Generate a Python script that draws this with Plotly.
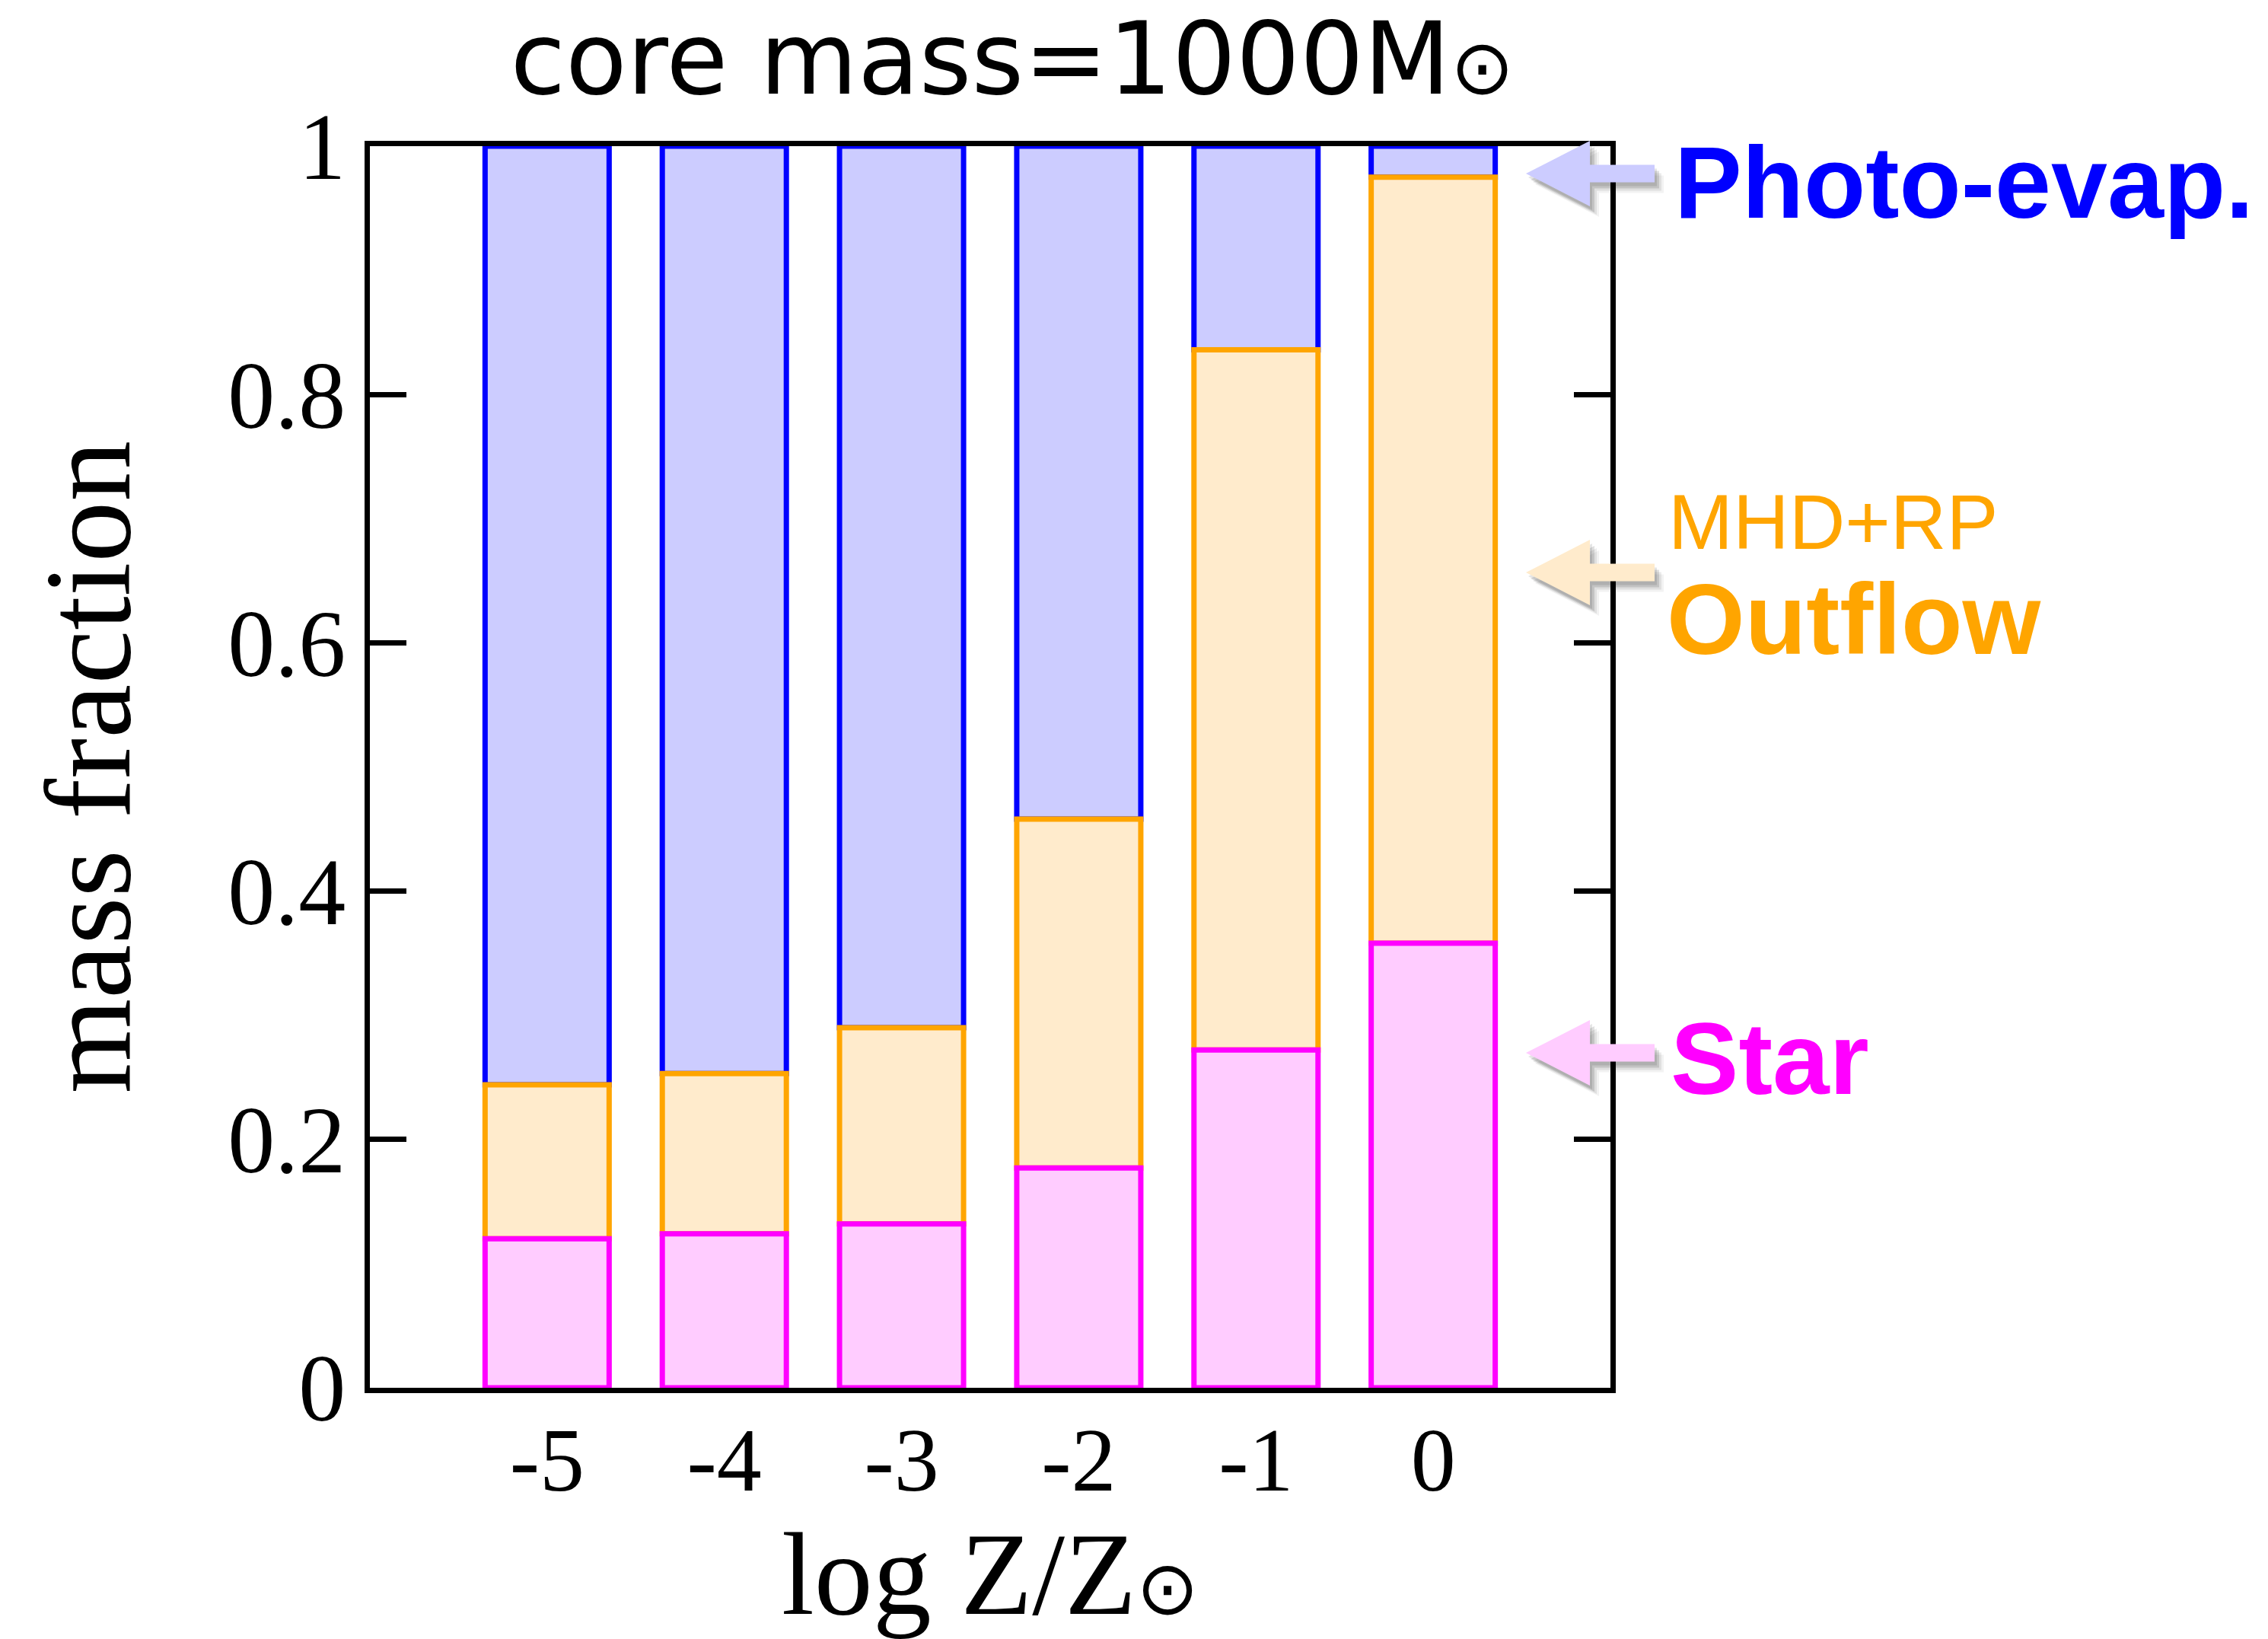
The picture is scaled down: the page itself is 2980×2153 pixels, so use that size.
import plotly.graph_objects as go

# Metallicity bins (log Z/Zsun) and the mass fraction ending up in each channel
log_z = [-5, -4, -3, -2, -1, 0]
tick_text = ["-5", "-4", "-3", "-2", "-1", "0"]
star_frac = [0.120, 0.124, 0.132, 0.177, 0.272, 0.358]
outflow_frac = [0.124, 0.129, 0.158, 0.281, 0.564, 0.617]
photo_frac = [0.756, 0.747, 0.710, 0.542, 0.164, 0.025]

# colours: (fill, edge)
STAR = ("#ffccff", "#ff00ff")
OUTFLOW = ("#ffebcc", "#ffa500")
PHOTO = ("#ccccff", "#0000ff")

W, H = 2980, 2153
L, R, T, B = 486, 2116, 192, 1823   # plot area in pixels (axis lines sit just outside)
PW, PH = R - L, B - T

base_outflow = star_frac
base_photo = [s + o for s, o in zip(star_frac, outflow_frac)]

fig = go.Figure()
edge_w = 7
bar_w = 0.7
# draw the full column first, then the lower channels on top of it
fig.add_trace(go.Bar(x=log_z, y=photo_frac, base=base_photo, width=bar_w,
                     marker=dict(color=PHOTO[0], line=dict(color=PHOTO[1], width=edge_w)),
                     name="Photo-evap."))
fig.add_trace(go.Bar(x=log_z, y=outflow_frac, base=base_outflow, width=bar_w,
                     marker=dict(color=OUTFLOW[0], line=dict(color=OUTFLOW[1], width=edge_w)),
                     name="Outflow"))
fig.add_trace(go.Bar(x=log_z, y=star_frac, base=[0] * len(log_z), width=bar_w,
                     marker=dict(color=STAR[0], line=dict(color=STAR[1], width=edge_w)),
                     name="Star"))


def px_x(px):
    return (px - L) / PW


def px_y(py):
    return (B - py) / PH


def arrow(yc, color, dx=0, dy=0):
    tip, back, end = 2005 + dx, 2089 + dx, 2174 + dx
    hh, sh = 43, 11.5
    yc = yc + dy
    pts = [(tip, yc), (back, yc - hh), (back, yc - sh), (end, yc - sh),
           (end, yc + sh), (back, yc + sh), (back, yc + hh)]
    path = "M " + " L ".join(f"{px_x(x):.5f},{px_y(y):.5f}" for x, y in pts) + " Z"
    return dict(type="path", xref="paper", yref="paper", path=path,
                fillcolor=color, line=dict(width=0), layer="above")


shapes = []
for yc, col in [(228, PHOTO[0]), (752, OUTFLOW[0]), (1383, STAR[0])]:
    for (ox, oy, a) in [(3, 5, 0.10), (6, 8, 0.12), (9, 11, 0.08), (12, 14, 0.05)]:
        shapes.append(arrow(yc, f"rgba(0,0,0,{a})", ox, oy))
    shapes.append(arrow(yc, col))

annotations = [
    dict(text="Photo-evap.", x=px_x(2198), y=px_y(240), font=dict(size=133, color="#0000ff",
         family="Liberation Sans", weight="bold")),
    dict(text="MHD+RP", x=px_x(2190), y=px_y(686), font=dict(size=102, color="#ffa500",
         family="Liberation Sans")),
    dict(text="Outflow", x=px_x(2188), y=px_y(813), font=dict(size=132, color="#ffa500",
         family="Liberation Sans", weight="bold")),
    dict(text="Star", x=px_x(2193), y=px_y(1390), font=dict(size=134, color="#ff00ff",
         family="Liberation Sans", weight="bold")),
]
for a in annotations:
    a.update(xref="paper", yref="paper", xanchor="left", yanchor="middle", showarrow=False)

sun = '<span style="font-size:{}px">\u2299</span>'
serif = "Liberation Serif"
fig.update_layout(
    width=W, height=H,
    margin=dict(l=L, r=W - R, t=T, b=H - B, pad=0),
    barmode="overlay",
    showlegend=False,
    plot_bgcolor="white", paper_bgcolor="white",
    title=dict(text="core mass=1000M" + sun.format(100), x=px_x(1330), xanchor="center",
               y=1 - 77 / H, yanchor="middle", xref="paper",
               font=dict(family="DejaVu Sans", size=132, color="black")),
    xaxis=dict(range=[-6, 1], tickvals=log_z, ticktext=tick_text, ticks="",
               showline=True, linecolor="black", linewidth=7, mirror=True,
               showgrid=False, zeroline=False, automargin=False,
               tickfont=dict(family=serif, size=118, color="black"),
               ticklabelstandoff=-14,
               title=dict(text="log Z/Z" + sun.format(98),
                          font=dict(family=serif, size=154, color="black"),
                          standoff=50)),
    yaxis=dict(range=[0, 1], tickvals=[0, 0.2, 0.4, 0.6, 0.8, 1],
               ticktext=["0", "0.2", "0.4", "0.6", "0.8", "1"],
               ticks="inside", ticklen=48, tickwidth=7, tickcolor="black",
               showline=True, linecolor="black", linewidth=7, mirror="ticks",
               showgrid=False, zeroline=False, automargin=False,
               tickfont=dict(family=serif, size=124, color="black"),
               ticklabelstandoff=0,
               title=dict(text="mass fraction", font=dict(family=serif, size=160, color="black"),
                          standoff=77)),
    shapes=shapes,
    annotations=annotations,
)

fig.write_html("out.html")
